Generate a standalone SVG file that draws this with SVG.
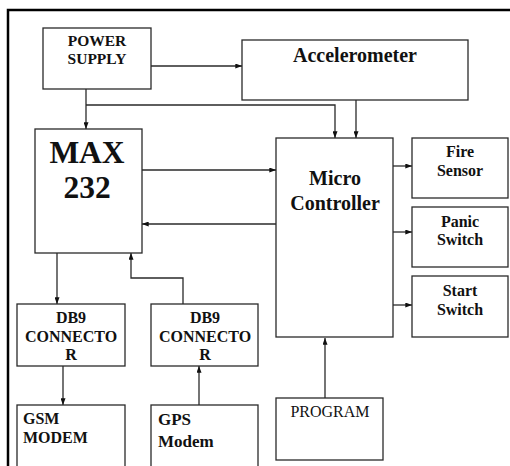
<svg xmlns="http://www.w3.org/2000/svg" width="510" height="466" viewBox="0 0 510 466">
<defs>
<marker id="arr" viewBox="0 0 8 6" refX="8" refY="3" markerWidth="7" markerHeight="5" markerUnits="userSpaceOnUse" orient="auto">
<path d="M0,0 L8,3 L0,6 Z" fill="#111"/>
</marker>
<style>
.box{fill:#fff;stroke:#2a2a2a;stroke-width:1.3}
text{font-family:'Liberation Serif','DejaVu Serif',serif;font-weight:bold;fill:#111;text-anchor:middle}
.l{text-anchor:start}
.r{font-weight:normal}
.c{fill:none;stroke:#2a2a2a;stroke-width:1.3;marker-end:url(#arr)}
</style>
</defs>
<rect width="510" height="466" fill="#fff"/>
<path d="M8,470 L8,10 L515,10" fill="none" stroke="#000" stroke-width="2.5"/>
<g id="connectors">
<path class="c" d="M151,66 L242,66"/>
<path class="c" d="M86,89 L86,129"/>
<path class="c" d="M86,105 L335,105 L335,138"/>
<path class="c" d="M356,100 L356,138"/>
<path class="c" d="M142,170 L276,170"/>
<path class="c" d="M276,224 L142,224"/>
<path class="c" d="M393,166 L412,166"/>
<path class="c" d="M393,232 L412,232"/>
<path class="c" d="M393,305 L412,305"/>
<path class="c" d="M325,398 L325,338"/>
<path class="c" d="M57,253 L57,304"/>
<path class="c" d="M183,304 L183,278 L131,278 L131,253"/>
<path class="c" d="M63,366 L63,405"/>
<path class="c" d="M199,405 L199,366"/>
</g>
<g id="power">
<rect class="box" x="43" y="28" width="108" height="61"/>
<text x="97" y="46" font-size="15.5">POWER</text>
<text x="97" y="64" font-size="15.5">SUPPLY</text>
</g>
<g id="accel">
<rect class="box" x="242" y="40" width="226" height="60"/>
<text x="355" y="62" font-size="20">Accelerometer</text>
</g>
<g id="max232">
<rect class="box" x="35" y="129" width="107" height="124"/>
<text x="87" y="163" font-size="31.5">MAX</text>
<text x="87" y="198" font-size="31.5">232</text>
</g>
<g id="micro">
<rect class="box" x="276" y="138" width="117" height="199"/>
<text x="335" y="185" font-size="20">Micro</text>
<text x="335" y="210" font-size="20">Controller</text>
</g>
<g id="fire">
<rect class="box" x="412" y="138" width="96" height="60"/>
<text x="460" y="157" font-size="16">Fire</text>
<text x="460" y="176" font-size="16">Sensor</text>
</g>
<g id="panic">
<rect class="box" x="412" y="207" width="96" height="60"/>
<text x="460" y="227" font-size="16">Panic</text>
<text x="460" y="245" font-size="16">Switch</text>
</g>
<g id="start">
<rect class="box" x="412" y="276" width="96" height="61"/>
<text x="460" y="296" font-size="16">Start</text>
<text x="460" y="315" font-size="16">Switch</text>
</g>
<g id="db9a">
<rect class="box" x="17" y="304" width="108" height="62"/>
<text x="71" y="323" font-size="16">DB9</text>
<text x="71" y="342" font-size="16">CONNECTO</text>
<text x="71" y="360" font-size="16">R</text>
</g>
<g id="db9b">
<rect class="box" x="151" y="304" width="107" height="62"/>
<text x="205" y="323" font-size="16">DB9</text>
<text x="205" y="342" font-size="16">CONNECTO</text>
<text x="205" y="360" font-size="16">R</text>
</g>
<g id="gsm">
<rect class="box" x="17" y="405" width="108" height="70"/>
<text class="l" x="23" y="424" font-size="16">GSM</text>
<text class="l" x="23" y="443" font-size="16">MODEM</text>
</g>
<g id="gps">
<rect class="box" x="151" y="405" width="107" height="70"/>
<text class="l" x="158" y="425" font-size="17">GPS</text>
<text class="l" x="158" y="447" font-size="17">Modem</text>
</g>
<g id="program">
<rect class="box" x="276" y="398" width="107" height="62"/>
<text class="r" x="330" y="417" font-size="16">PROGRAM</text>
</g>
</svg>
